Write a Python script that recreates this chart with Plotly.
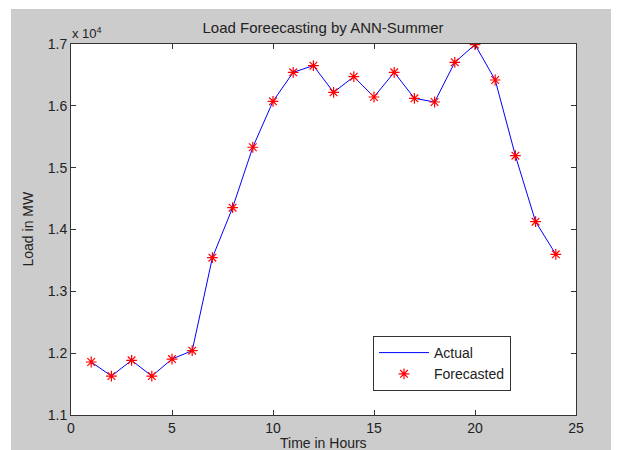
import plotly.graph_objects as go

hours = list(range(1, 25))
actual_mw = [11857, 11630, 11884, 11630, 11905, 12040, 13544, 14353, 15330, 16073,
             16542, 16650, 16219, 16471, 16143, 16542, 16122, 16062, 16704, 16990,
             16418, 15194, 14126, 13599]
forecast_mw = list(actual_mw)

x_ticks = [0, 5, 10, 15, 20, 25]
y_tickvals = [11000, 12000, 13000, 14000, 15000, 16000, 17000]
y_ticktext = ["1.1", "1.2", "1.3", "1.4", "1.5", "1.6", "1.7"]

OFF = 8  # default page body margin
PW, PH = 619, 450
W, H = PW - OFF, PH - OFF
# plot area in page pixels: x 71..576, y 44..415
L, R = 71 - OFF, W - (576 - OFF)
T, B = 44 - OFF, H - (415 - OFF)
pw, ph = W - L - R, H - T - B

def px_x(px):
    return (px - OFF - L) / pw

def px_y(py):
    return (H - B - (py - OFF)) / ph

font = "Liberation Sans, Arial, sans-serif"
axcol = "#333333"

fig = go.Figure()
fig.add_trace(go.Scatter(x=hours, y=actual_mw, mode="lines", name="Actual",
                         line=dict(color="#0000ff", width=1)))
fig.add_trace(go.Scatter(x=hours, y=forecast_mw, mode="markers", name="Forecasted",
                         marker=dict(symbol="asterisk-open", size=9,
                                     line=dict(color="#ff0000", width=1.2),
                                     color="#ff0000")))

fig.update_layout(
    width=W, height=H,
    margin=dict(l=L, r=R, t=T, b=B, pad=0),
    paper_bgcolor="#cccccc",
    plot_bgcolor="#ffffff",
    font=dict(family=font, size=13, color="#222222"),
    title=dict(text="Load Foreecasting by ANN-Summer",
               x=(323 - OFF) / W, xanchor="center",
               y=1 - (28 - OFF) / H, yanchor="middle",
               font=dict(size=15, color="#222222")),
    showlegend=True,
    legend=dict(x=px_x(373), y=px_y(336), xanchor="left", yanchor="top",
                bgcolor="#ffffff", bordercolor=axcol, borderwidth=1,
                font=dict(size=14), tracegroupgap=0, itemwidth=50),
    xaxis=dict(range=[0, 25], tickvals=x_ticks, ticks="inside", ticklen=5,
               showline=True, linecolor=axcol, linewidth=1, mirror="ticks",
               tickcolor=axcol, showgrid=False, zeroline=False,
               tickfont=dict(size=14)),
    yaxis=dict(range=[11000, 17000], tickvals=y_tickvals, ticktext=y_ticktext,
               ticks="inside", ticklen=5, showline=True, linecolor=axcol,
               linewidth=1, mirror="ticks", tickcolor=axcol, showgrid=False,
               zeroline=False, tickfont=dict(size=14)),
    annotations=[
        dict(text="x 10<sup>4</sup>", xref="paper", yref="paper",
             x=px_x(70), y=px_y(33), xanchor="left", yanchor="middle",
             showarrow=False, font=dict(size=13)),
        dict(text="Load in MW", xref="paper", yref="paper",
             x=px_x(27), y=0.5, xanchor="center", yanchor="middle",
             textangle=-90, showarrow=False, font=dict(size=14)),
        dict(text="Time in Hours", xref="paper", yref="paper",
             x=px_x(323), y=px_y(443), xanchor="center", yanchor="middle",
             showarrow=False, font=dict(size=14)),
    ],
    shapes=[
        dict(type="rect", xref="paper", yref="paper", x0=px_x(0), x1=px_x(11),
             y0=px_y(PH + 5), y1=px_y(0), fillcolor="#ffffff", line=dict(width=0),
             layer="below"),
        dict(type="rect", xref="paper", yref="paper", x0=px_x(0), x1=px_x(PW + 5),
             y0=px_y(9), y1=px_y(0), fillcolor="#ffffff", line=dict(width=0),
             layer="below"),
    ],
)

fig.write_html("out.html")
